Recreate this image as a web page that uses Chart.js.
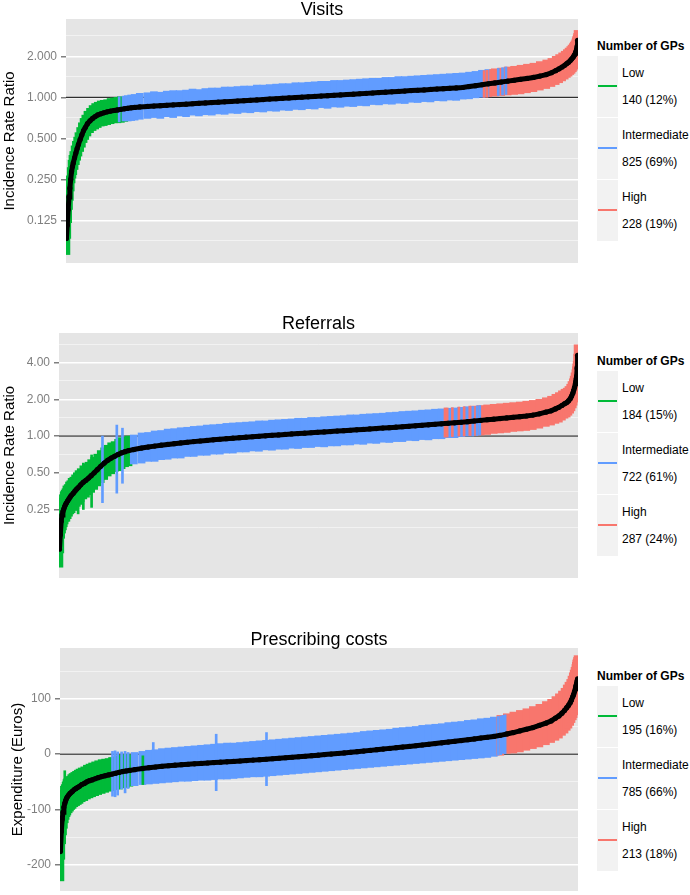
<!DOCTYPE html>
<html>
<head>
<meta charset="utf-8">
<script src="https://cdn.jsdelivr.net/npm/chart.js@4.4.0/dist/chart.umd.min.js"></script>
<style>
	body { margin: 0; width: 690px; height: 895px; overflow: hidden; position: relative; background: #fff;
		font-family: "Liberation Sans", Arial, sans-serif; }
	canvas { position: absolute; left: 0; }
	.ttl { position: absolute; font-size: 18px; line-height: 20px; color: #000; white-space: nowrap; transform: translateX(-50%); }
	.lgTitle { position: absolute; left: 597px; font-size: 12px; line-height: 14px; font-weight: bold; color: #000; white-space: nowrap; }
	.lgKey { position: absolute; left: 597px; width: 21px; height: 61px; background: #F2F2F2; }
	.lgLine { position: absolute; left: 598px; width: 19px; height: 2px; }
	.lgText { position: absolute; left: 622px; font-size: 12px; line-height: 14px; color: #000; white-space: nowrap; }
</style>
</head>
<body>
<script>
/* Data: GP rank (sorted by estimate), shared by the three panels */
var ranks = [1,3,5,7,9,11,13,15,17,20,
	23,26,29,33,37,41,45,50,56,62,
	68,74,81,88,96,104,112,120,128,136,
	144,152,160,172,190,205,220,235,250,265,
	280,295,310,325,340,355,370,385,400,415,
	430,445,460,475,490,505,520,535,550,565,
	580,595,610,625,640,655,670,685,700,715,
	730,745,760,775,790,805,820,835,850,865,
	880,895,910,925,940,955,970,985,1000,1015,
	1030,1045,1060,1075,1090,1105,1120,1132,1142,1150,
	1157,1163,1168,1172,1176,1179,1182,1184,1186,1188,
	1189,1190,1191,1192,1193];

/* Visits: incidence rate ratio and its interval */
var visitsEst = [0.092,0.115,0.15,0.185,0.215,0.25,0.285,0.31,0.33,0.36,
	0.39,0.42,0.45,0.49,0.53,0.57,0.6,0.64,0.672,0.7,
	0.722,0.742,0.757,0.77,0.782,0.792,0.8,0.808,0.816,0.823,
	0.83,0.837,0.843,0.85,0.857,0.863,0.868,0.874,0.88,0.885,
	0.891,0.897,0.903,0.909,0.915,0.921,0.927,0.932,0.939,0.945,
	0.951,0.957,0.963,0.97,0.976,0.983,0.989,0.995,1.002,1.008,
	1.015,1.022,1.028,1.035,1.042,1.049,1.055,1.062,1.069,1.076,
	1.083,1.09,1.098,1.105,1.112,1.12,1.127,1.134,1.142,1.149,
	1.157,1.164,1.172,1.181,1.2,1.218,1.237,1.256,1.275,1.295,
	1.315,1.335,1.356,1.377,1.4,1.432,1.468,1.515,1.57,1.62,
	1.67,1.72,1.77,1.81,1.86,1.91,1.96,2.0,2.05,2.11,
	2.15,2.2,2.26,2.36,2.62];
var visitsLo = [0.07,0.092,0.12,0.15,0.175,0.205,0.235,0.255,0.27,0.295,
	0.32,0.345,0.37,0.4,0.43,0.465,0.49,0.52,0.55,0.57,
	0.585,0.6,0.615,0.62,0.63,0.64,0.65,0.65,0.655,0.665,
	0.67,0.675,0.68,0.69,0.7,0.71,0.7,0.72,0.71,0.73,
	0.72,0.74,0.73,0.745,0.74,0.755,0.75,0.765,0.76,0.775,
	0.77,0.785,0.78,0.795,0.79,0.805,0.8,0.815,0.81,0.825,
	0.82,0.84,0.83,0.85,0.845,0.86,0.855,0.87,0.865,0.885,
	0.88,0.895,0.89,0.905,0.9,0.92,0.915,0.93,0.925,0.945,
	0.94,0.955,0.95,0.97,0.975,0.99,1.0,1.01,1.02,1.03,
	1.04,1.05,1.06,1.08,1.1,1.13,1.16,1.2,1.24,1.28,
	1.32,1.36,1.4,1.43,1.47,1.5,1.54,1.58,1.62,1.66,
	1.7,1.74,1.78,1.85,2.05];
var visitsHi = [0.12,0.145,0.185,0.225,0.265,0.305,0.345,0.375,0.4,0.44,
	0.475,0.51,0.55,0.6,0.65,0.7,0.74,0.79,0.83,0.87,
	0.9,0.92,0.94,0.95,0.96,0.98,0.99,1.0,1.01,1.0,
	1.03,1.04,1.05,1.07,1.08,1.1,1.09,1.11,1.12,1.12,
	1.13,1.15,1.14,1.16,1.17,1.17,1.19,1.19,1.2,1.21,
	1.21,1.23,1.23,1.24,1.25,1.26,1.26,1.28,1.28,1.29,
	1.3,1.31,1.31,1.33,1.33,1.34,1.35,1.36,1.37,1.38,
	1.38,1.4,1.4,1.42,1.42,1.43,1.44,1.45,1.46,1.47,
	1.48,1.49,1.5,1.51,1.53,1.55,1.58,1.6,1.62,1.64,
	1.67,1.69,1.72,1.75,1.78,1.83,1.88,1.93,2.0,2.06,
	2.12,2.18,2.24,2.3,2.36,2.42,2.48,2.54,2.6,2.68,
	2.74,2.8,2.87,2.95,3.1];
var visitsGrp = ('LLLLLLLLLL' + 'LLLLLLLLLL' + 'LLLLLLLLLL' + 'IIIIIIIIII' +
	'IIIIIIIIII' + 'IIIIIIIIII' + 'IIIIIIIIII' + 'IIIIIIIIII' +
	'IIIIIIIIHH' + 'HHHHHHHHHH' + 'HHHHHHHHHH' + 'HHHHH').split('');
/* single GPs drawn out of the band (mixed colours at the group borders) */
var visitsOutRanks = [124, 133, 975, 982, 990, 1008, 1018, 1026];
var visitsOutLo = [0.66, 0.67, 1.0, 1.0, 1.01, 1.03, 1.04, 1.05];
var visitsOutHi = [1.01, 1.02, 1.57, 1.58, 1.6, 1.63, 1.65, 1.67];
var visitsOutGrp = 'IIHHHIII'.split('');

/* Referrals */
var referralsEst = [0.118,0.155,0.2,0.225,0.24,0.252,0.264,0.274,0.282,0.294,
	0.306,0.318,0.328,0.34,0.355,0.368,0.38,0.398,0.418,0.434,
	0.452,0.473,0.5,0.53,0.565,0.6,0.632,0.66,0.683,0.706,
	0.728,0.745,0.76,0.775,0.797,0.812,0.827,0.841,0.854,0.866,
	0.878,0.889,0.9,0.911,0.921,0.931,0.941,0.951,0.96,0.969,
	0.978,0.987,0.995,1.004,1.013,1.022,1.031,1.04,1.048,1.056,
	1.064,1.072,1.08,1.089,1.098,1.107,1.116,1.125,1.134,1.143,
	1.152,1.162,1.172,1.182,1.192,1.202,1.213,1.224,1.235,1.247,
	1.259,1.271,1.283,1.296,1.312,1.328,1.344,1.36,1.376,1.392,
	1.408,1.424,1.441,1.46,1.485,1.52,1.57,1.61,1.67,1.72,
	1.78,1.84,1.88,1.94,2.02,2.12,2.24,2.36,2.5,2.68,
	2.8,2.95,3.1,3.6,4.6];
var referralsLo = [0.084,0.11,0.145,0.16,0.17,0.18,0.19,0.2,0.2,0.21,
	0.22,0.23,0.235,0.245,0.255,0.265,0.275,0.29,0.305,0.315,
	0.33,0.345,0.365,0.39,0.415,0.44,0.47,0.49,0.51,0.52,
	0.54,0.56,0.57,0.59,0.6,0.62,0.62,0.64,0.645,0.66,
	0.66,0.68,0.68,0.695,0.695,0.71,0.71,0.725,0.725,0.74,
	0.74,0.755,0.75,0.77,0.765,0.78,0.78,0.795,0.79,0.805,
	0.805,0.82,0.815,0.83,0.83,0.845,0.845,0.86,0.855,0.875,
	0.87,0.89,0.885,0.9,0.9,0.92,0.915,0.935,0.93,0.95,
	0.95,0.97,0.97,0.99,1.0,1.01,1.02,1.03,1.05,1.06,
	1.07,1.09,1.1,1.11,1.13,1.16,1.2,1.23,1.27,1.3,
	1.35,1.4,1.43,1.48,1.54,1.61,1.7,1.79,1.9,2.04,
	2.13,2.24,2.36,2.74,3.5];
var referralsHi = [0.17,0.215,0.27,0.31,0.33,0.35,0.36,0.37,0.39,0.4,
	0.42,0.43,0.45,0.46,0.48,0.5,0.52,0.54,0.57,0.59,
	0.61,0.64,0.67,0.71,0.76,0.8,0.84,0.88,0.9,0.94,
	0.97,0.98,1.0,1.02,1.06,1.07,1.1,1.11,1.14,1.15,
	1.17,1.18,1.2,1.21,1.23,1.24,1.25,1.27,1.28,1.29,
	1.3,1.31,1.33,1.33,1.35,1.36,1.37,1.38,1.4,1.4,
	1.42,1.42,1.44,1.45,1.46,1.47,1.49,1.49,1.51,1.52,
	1.53,1.54,1.56,1.57,1.59,1.6,1.61,1.63,1.64,1.66,
	1.67,1.69,1.7,1.72,1.74,1.76,1.78,1.8,1.82,1.84,
	1.86,1.88,1.9,1.93,1.96,2.0,2.06,2.12,2.2,2.27,
	2.35,2.42,2.47,2.55,2.66,2.8,2.95,3.1,3.3,3.5,
	3.7,3.9,4.1,4.7,5.6];
var referralsGrp = ('LLLLLLLLLL' + 'LLLLLLLLLL' + 'LLLLLLLLLL' + 'LLLIIIIIII' +
	'IIIIIIIIII' + 'IIIIIIIIII' + 'IIIIIIIIII' + 'IIIIIIIIII' +
	'IIIIIHHHHH' + 'HHHHHHHHHH' + 'HHHHHHHHHH' + 'HHHHH').split('');
var referralsOutRanks = [44, 56, 75, 100, 133, 146, 888, 893, 905, 920, 932, 945, 952, 962, 968];
var referralsOutLo = [0.23, 0.25, 0.26, 0.284, 0.34, 0.41, 0.98, 0.98, 0.99, 1.0, 1.0, 1.01, 1.0, 1.01, 1.02];
var referralsOutHi = [0.52, 0.6, 0.7, 1.0, 1.23, 1.16, 1.7, 1.7, 1.71, 1.73, 1.74, 1.76, 1.75, 1.77, 1.78];
var referralsOutGrp = 'LLLIIIHHHHHHIII'.split('');

/* Prescribing costs (Euros) */
var prescribingEst = [-176,-140,-118,-105,-96,-89,-84,-80,-77,-74,
	-71,-69,-67,-64,-62,-60,-58,-55,-53,-50,
	-48,-46.5,-44.5,-42.5,-40.5,-39,-37.5,-36,-34.5,-33,
	-31.5,-30.5,-29.5,-28,-26,-24.5,-23.2,-22,-21,-20,
	-19.1,-18.3,-17.5,-16.7,-16,-15.3,-14.6,-13.9,-13.2,-12.4,
	-11.6,-10.8,-10,-9.2,-8.3,-7.4,-6.5,-5.6,-4.7,-3.8,
	-2.8,-1.8,-0.8,0.2,1.2,2.2,3.3,4.4,5.6,6.8,
	8,9.2,10.4,11.6,12.8,14,15.2,16.5,17.8,19.1,
	20.4,21.8,23.2,24.5,26,27.5,29,30.5,32,34,
	36.5,39,42,45,48,52,56,60,65,69,
	74,79,84,88,93,98,104,108,113,118,
	122,125,128,132,136];
var prescribingLo = [-229,-190,-162,-146,-134,-124,-118,-113,-110,-106,
	-103,-100,-98,-95,-93,-91,-89,-86,-84,-81,
	-79,-77,-75,-73,-71,-69,-67,-66,-64,-63,
	-61,-60,-58,-57,-55,-54,-53,-52,-51,-50,
	-49,-49,-48,-47,-47,-46,-45,-45,-44,-43,
	-42,-41,-41,-40,-39,-38,-37,-36,-35,-34,
	-33,-32,-31,-30,-29,-28,-27,-26,-25,-24,
	-23,-22,-21,-20,-19,-18,-17,-16,-15,-14,
	-13,-12,-11,-10,-9,-8,-7,-6,-4,-2,
	0,2,4,7,10,13,17,21,25,29,
	34,38,43,47,52,57,62,66,71,76,
	80,83,86,90,95];
var prescribingHi = [-125,-92,-75,-65,-58,-55,-50,-46,-44,-42,
	-40,-37,-35,-33,-31,-29,-27,-25,-23,-20,
	-18,-16,-14,-12,-10,-9,-8,-6,-5,-3,
	-2,-1,0,3,5,7,8,10,11,12,
	13,14,15,16,17,18,19,20,20,21,
	22,23,24,25,26,27,28,29,30,31,
	32,33,34,35,36,37,38,39,41,42,
	43,44,45,47,48,49,50,52,53,54,
	55,57,58,59,61,62,64,65,67,70,
	73,76,79,82,86,90,95,99,104,109,
	114,119,125,130,135,141,147,152,157,162,
	166,170,172,175,178];
var prescribingGrp = ('LLLLLLLLLL' + 'LLLLLLLLLL' + 'LLLLLLLLLL' + 'LLLIIIIIII' +
	'IIIIIIIIII' + 'IIIIIIIIII' + 'IIIIIIIIII' + 'IIIIIIIIII' +
	'IIIIIIIIIH' + 'HHHHHHHHHH' + 'HHHHHHHHHH' + 'HHHHH').split('');
var prescribingOutRanks = [11, 121, 127, 133, 142, 150, 157, 191, 215, 360, 476, 1010, 1016, 1021, 1026];
var prescribingOutLo = [-124, -76, -77, -74, -63, -70, -62, -55, -48, -66, -57, -2, -1, 0, 1];
var prescribingOutHi = [-30, 5, 6, 4, 4, 5, 3, -3, 21, 36, 39, 68, 69, 70, 71];
var prescribingOutGrp = 'LIIIIIILIIIIIII'.split('');

/* Axis breaks */
var visitsTicks = [0.125, 0.25, 0.5, 1, 2];
var visitsTickText = ['0.125', '0.250', '0.500', '1.000', '2.000'];
var visitsMinor = [0.0884, 0.177, 0.354, 0.707, 1.414, 2.828];
var referralsTicks = [0.25, 0.5, 1, 2, 4];
var referralsTickText = ['0.25', '0.50', '1.00', '2.00', '4.00'];
var referralsMinor = [0.177, 0.354, 0.707, 1.414, 2.828, 5.657];
var prescribingTicks = [-200, -100, 0, 100];
var prescribingTickText = ['-200', '-100', '0', '100'];
var prescribingMinor = [-150, -50, 50, 150];

/* Legend */
var groupNames = ['Low', 'Intermediate', 'High'];
var groupKeys = ['L', 'I', 'H'];
var visitsCounts = ['140 (12%)', '825 (69%)', '228 (19%)'];
var referralsCounts = ['184 (15%)', '722 (61%)', '287 (24%)'];
var prescribingCounts = ['195 (16%)', '785 (66%)', '213 (18%)'];

var groupColours = { L: '#00BA38', I: '#619CFF', H: '#F8766D' };

Chart.defaults.font.family = '"Liberation Sans", Arial, sans-serif';

var panelBg = {
	id: 'panelBg',
	beforeDraw: function(chart){
		var a = chart.chartArea;
		var ctx = chart.ctx;
		ctx.save();
		ctx.fillStyle = '#E5E5E5';
		ctx.fillRect(a.left, a.top, a.right - a.left, a.bottom - a.top);
		ctx.restore();
	}
};

var addDiv = function(cls, text, left, top){
	var d = document.createElement('div');
	d.className = cls;
	if (text) d.textContent = text;
	if (left !== null) d.style.left = left + 'px';
	d.style.top = top + 'px';
	document.body.appendChild(d);
	return d;
};

var makeLegend = function(boxTop, counts){
	addDiv('lgTitle', 'Number of GPs', null, boxTop - 17);
	for (var i = 0; i < 3; i++) {
		var top = boxTop + i * 62;
		addDiv('lgKey', '', null, top);
		addDiv('lgLine', '', null, top + 29).style.background = groupColours[groupKeys[i]];
		addDiv('lgText', groupNames[i], null, top + 10);
		addDiv('lgText', counts[i], null, top + 37);
	}
};

var colourOf = function(g){ return groupColours[g]; };

var makePanel = function(p){
	var canvas = document.createElement('canvas');
	canvas.width = 595;
	canvas.height = p.height;
	canvas.style.top = p.top + 'px';
	document.body.appendChild(canvas);

	addDiv('ttl', p.title, p.titleX, p.titleTop);
	makeLegend(p.legendTop, p.counts);

	var allTicks = p.ticks.concat(p.minor).sort(function(a, b){ return a - b; });
	var isMajor = function(c){ return c.tick && p.ticks.indexOf(c.tick.value) >= 0; };

	new Chart(canvas, {
		type: 'bar',
		data: {
			datasets: [
				{
					type: 'line',
					data: [{ x: 0, y: p.ref }, { x: 1194, y: p.ref }],
					borderColor: '#000',
					borderWidth: 1,
					pointRadius: 0,
					order: 4
				},
				{
					type: 'bar',
					data: ranks.map(function(r, i){ return { x: r, y: [p.lo[i], p.hi[i]] }; }),
					backgroundColor: p.grp.map(colourOf),
					barThickness: 7,
					grouped: false,
					borderWidth: 0,
					order: 3
				},
				{
					type: 'bar',
					data: p.outRanks.map(function(r, i){ return { x: r, y: [p.outLo[i], p.outHi[i]] }; }),
					backgroundColor: p.outGrp.map(colourOf),
					barThickness: 2,
					grouped: false,
					borderWidth: 0,
					order: 2
				},
				{
					type: 'line',
					data: ranks.map(function(r, i){ return { x: r, y: p.est[i] }; }),
					borderColor: '#000',
					borderWidth: 5,
					pointRadius: 2.6,
					pointBackgroundColor: '#000',
					pointBorderWidth: 0,
					tension: 0,
					order: 1
				}
			]
		},
		options: {
			responsive: false,
			animation: false,
			events: [],
			layout: { padding: { top: p.padTop, bottom: p.padBottom, left: 0, right: 17 } },
			plugins: { legend: { display: false }, tooltip: { enabled: false } },
			scales: {
				x: { type: 'linear', min: 0, max: 1194, display: false, offset: false },
				y: {
					type: p.log ? 'logarithmic' : 'linear',
					min: p.yMin,
					max: p.yMax,
					afterBuildTicks: function(s){
						s.ticks = allTicks.map(function(v){ return { value: v }; });
					},
					afterFit: function(s){
						s.width = p.axisWidth;
						s.paddingTop = 0;
						s.paddingBottom = 0;
					},
					border: { display: false },
					grid: {
						color: function(c){ return isMajor(c) ? '#FFFFFF' : '#F2F2F2'; },
						lineWidth: function(c){ return isMajor(c) ? 1.5 : 1; },
						tickColor: function(c){ return isMajor(c) ? '#7F7F7F' : 'rgba(0,0,0,0)'; },
						tickLength: 5
					},
					ticks: {
						autoSkip: false,
						padding: 4,
						color: '#7F7F7F',
						font: { size: 12 },
						callback: function(v){
							var k = p.ticks.indexOf(v);
							return k >= 0 ? p.tickText[k] : '';
						}
					},
					title: {
						display: true,
						text: p.yTitle,
						color: '#000',
						font: { size: 15 },
						padding: { top: p.titlePad, bottom: 0 }
					}
				}
			}
		},
		plugins: [panelBg]
	});
};

makePanel({
	top: 0, height: 285, padTop: 19, padBottom: 22, axisWidth: 66, titlePad: 0.5,
	title: 'Visits', titleX: 322, titleTop: -1, legendTop: 56, counts: visitsCounts,
	log: true, yMin: 0.0607, yMax: 3.76, ref: 1, yTitle: 'Incidence Rate Ratio',
	ticks: visitsTicks, tickText: visitsTickText, minor: visitsMinor,
	est: visitsEst, lo: visitsLo, hi: visitsHi, grp: visitsGrp,
	outRanks: visitsOutRanks, outLo: visitsOutLo, outHi: visitsOutHi, outGrp: visitsOutGrp
});

makePanel({
	top: 290, height: 300, padTop: 43, padBottom: 12, axisWidth: 59, titlePad: 0.5,
	title: 'Referrals', titleX: 318.5, titleTop: 313, legendTop: 371, counts: referralsCounts,
	log: true, yMin: 0.0685, yMax: 7.0, ref: 1, yTitle: 'Incidence Rate Ratio',
	ticks: referralsTicks, tickText: referralsTickText, minor: referralsMinor,
	est: referralsEst, lo: referralsLo, hi: referralsHi, grp: referralsGrp,
	outRanks: referralsOutRanks, outLo: referralsOutLo, outHi: referralsOutHi, outGrp: referralsOutGrp
});

makePanel({
	top: 590, height: 305, padTop: 58, padBottom: 2, axisWidth: 60, titlePad: 9,
	title: 'Prescribing costs', titleX: 319, titleTop: 629, legendTop: 686, counts: prescribingCounts,
	log: false, yMin: -247.3, yMax: 191.8, ref: 0, yTitle: 'Expenditure (Euros)',
	ticks: prescribingTicks, tickText: prescribingTickText, minor: prescribingMinor,
	est: prescribingEst, lo: prescribingLo, hi: prescribingHi, grp: prescribingGrp,
	outRanks: prescribingOutRanks, outLo: prescribingOutLo, outHi: prescribingOutHi, outGrp: prescribingOutGrp
});
</script>
</body>
</html>
